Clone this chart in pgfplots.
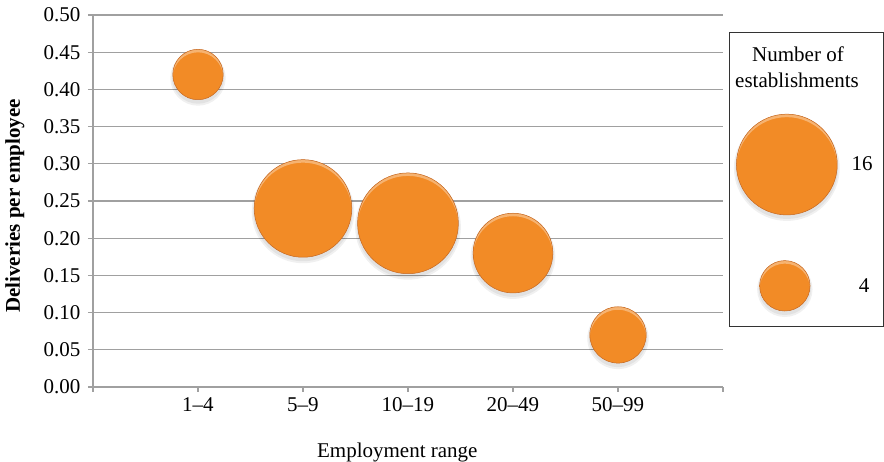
\documentclass[border=0pt]{standalone}
\usepackage{fontspec}
\setmainfont{Liberation Serif}
\usepackage{pgfplots}
\pgfplotsset{compat=1.18}
\usepackage{pgfplotstable}

\definecolor{bubblefill}{RGB}{242,139,38}
\definecolor{bubbleedge}{RGB}{196,100,28}
\definecolor{gridgray}{RGB}{160,160,160}

% orange bubble: flat body, darker rim towards the bottom
\pgfdeclareradialshading{bubbleshade}{\pgfpoint{0bp}{5bp}}{%
  color(0bp)=(bubblefill); color(44bp)=(bubblefill);
  color(53bp)=(bubbleedge); color(60bp)=(bubbleedge)}

\pgfdeclareplotmark{bubble}{%
  % soft drop shadow
  \begin{pgfscope}
    \pgfsetfillcolor{black}
    \pgfsetfillopacity{0.06}
    \pgfpathcircle{\pgfpoint{0pt}{-3.5pt}}{\pgfplotmarksize+2.5pt}
    \pgfusepathqfill
    \pgfpathcircle{\pgfpoint{0pt}{-3pt}}{\pgfplotmarksize+1pt}
    \pgfusepathqfill
  \end{pgfscope}
  % body
  \pgfpathcircle{\pgfpointorigin}{\pgfplotmarksize}
  \pgfshadepath{bubbleshade}{0}
  % light crescent along the upper edge
  \begin{pgfscope}
    \pgfpathcircle{\pgfpointorigin}{\pgfplotmarksize}
    \pgfusepathqclip
    \pgfseteorule
    \pgfsetfillcolor{white}
    \pgfsetfillopacity{0.35}
    \pgfpathcircle{\pgfpointorigin}{\pgfplotmarksize}
    \pgfpathcircle{\pgfpoint{0pt}{-3pt}}{\pgfplotmarksize}
    \pgfusepathqfill
  \end{pgfscope}
  \pgfpathcircle{\pgfpointorigin}{\pgfplotmarksize}
  \pgfusepathqstroke
}

% employment range index, deliveries per employee, number of establishments
\pgfplotstableread{
x y    n
1 0.42 4
2 0.24 15
3 0.22 16
4 0.18 10
5 0.07 5
}\deliveries

% size key shown beside the plot
\pgfplotstableread{
x     y     n
6.608 0.299 16
6.589 0.136 4
}\sizekey

\begin{document}
\begin{tikzpicture}[font=\fontsize{21}{25}\selectfont]
\begin{axis}[
  at={(0pt,0pt)}, anchor=south west,
  scale only axis, width=630pt, height=372pt,
  xmin=0, xmax=6, ymin=0, ymax=0.5,
  clip=false,
  axis lines*=left,
  axis line style={gridgray, line width=1.2pt},
  xtick={0,1,2,3,4,5,6},
  xticklabels={,1--4,5--9,10--19,20--49,50--99,},
  ytick={0,0.05,...,0.5},
  ymajorgrids,
  grid style={gridgray, line width=1.2pt},
  tick align=outside,
  major tick length=5pt,
  tick style={gridgray, line width=1.2pt},
  /pgf/number format/assume math mode=true,
  yticklabel style={xshift=-4pt, /pgf/number format/.cd, fixed, fixed zerofill, precision=2},
  xticklabel style={yshift=-2pt},
  xlabel={Employment range},
  xlabel style={at={(rel axis cs:0.483,0)}, anchor=base, yshift=-71pt},
  ylabel={\bfseries Deliveries per employee},
  ylabel style={at={(rel axis cs:0,0.4866)}, anchor=base, yshift=73pt},
  scatter/use mapped color={draw=bubbleedge, fill=bubblefill},
]
\addplot[scatter, only marks, mark=bubble, line width=0.5pt,
  visualization depends on={12.6*sqrt(\thisrow{n}) \as \rad},
  scatter/@pre marker code/.append style={/tikz/mark size=\rad}]
  table[x=x, y=y, meta=n] {\deliveries};
\addplot[scatter, only marks, mark=bubble, line width=0.5pt,
  visualization depends on={12.6*sqrt(\thisrow{n}) \as \rad},
  scatter/@pre marker code/.append style={/tikz/mark size=\rad}]
  table[x=x, y=y, meta=n] {\sizekey};
\end{axis}
% size key frame and captions
\draw[black!80, line width=1pt] (636pt,60pt) rectangle (790pt,354pt);
\node[anchor=base, inner sep=0pt] at (705pt,325pt) {Number of};
\node[anchor=base, inner sep=0pt] at (704pt,299pt) {establishments};
\node[anchor=base, inner sep=0pt] at (769pt,216pt) {16};
\node[anchor=base, inner sep=0pt] at (771pt,94pt) {4};
\pgfresetboundingbox
\useasboundingbox (-93pt,-75pt) rectangle (791pt,387pt);
\end{tikzpicture}
\end{document}
